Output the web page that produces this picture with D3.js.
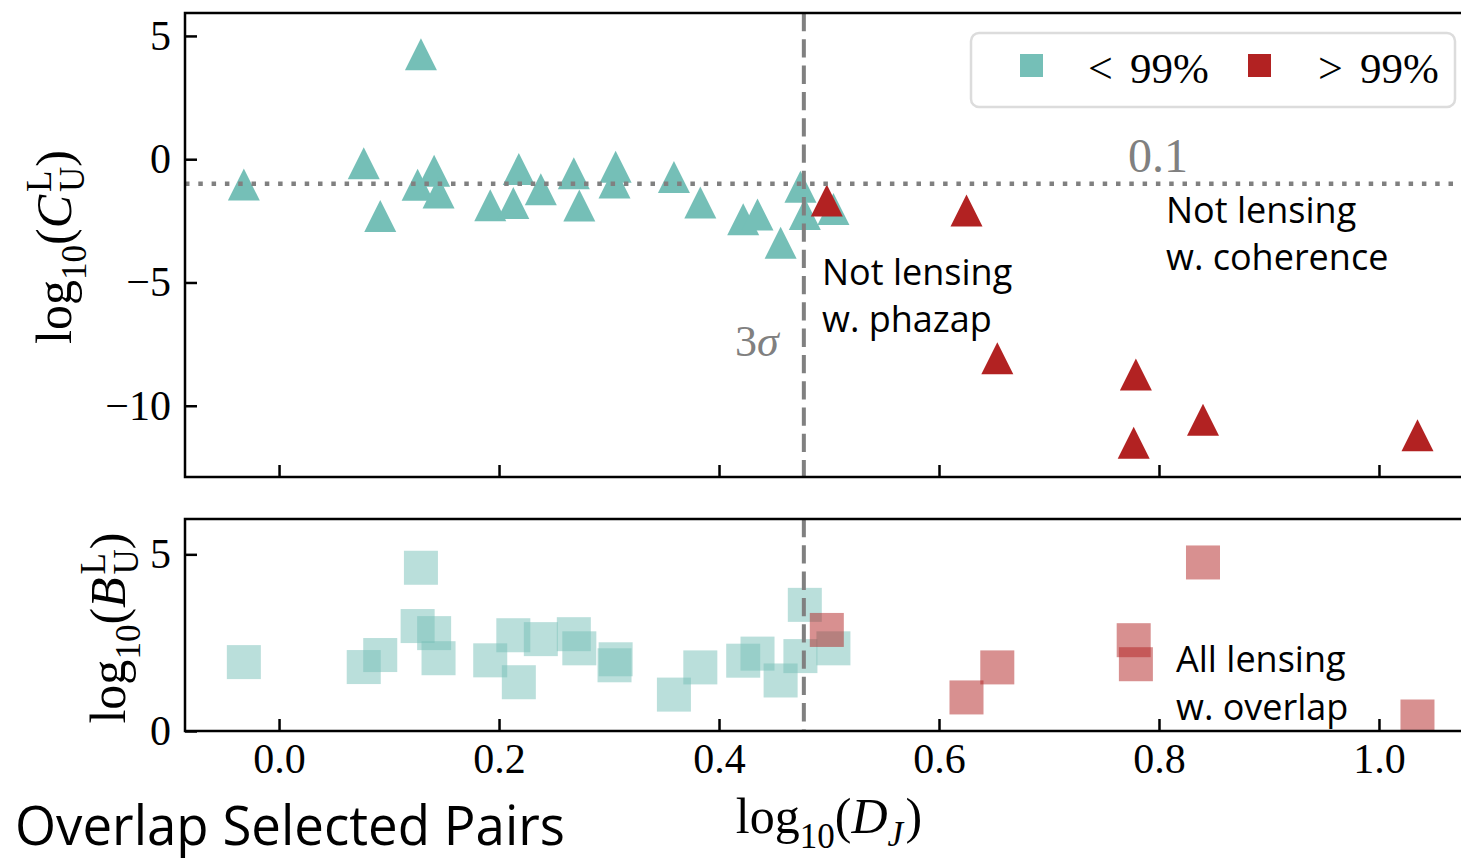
<!DOCTYPE html>
<html>
<head>
<meta charset="utf-8">
<script src="https://cdn.jsdelivr.net/npm/d3@7"></script>
<style>
  body { margin: 0; background: #fff; }
  svg text { fill: #000; }
</style>
</head>
<body>
<svg id="chart" width="1461" height="860"></svg>
<script>
// pairs below the 99% threshold
var djLow = [-0.032, 0.077, 0.092, 0.126, 0.129, 0.141, 0.145, 0.192, 0.213, 0.218, 0.238, 0.268,
	0.273, 0.305, 0.306, 0.359, 0.383, 0.422, 0.435, 0.456, 0.474, 0.478, 0.504];
var cLow = [-1.03, -0.16, -2.30, -1.04, 4.26, -0.47, -1.35, -1.87, -1.78, -0.40, -1.22, -0.57,
	-1.88, -0.94, -0.31, -0.72, -1.76, -2.44, -2.24, -3.39, -1.12, -2.22, -2.02];
var bLow = [1.95, 1.81, 2.15, 2.97, 4.62, 2.77, 2.06, 2.00, 2.71, 1.38, 2.60, 2.74,
	2.34, 1.86, 2.03, 1.03, 1.80, 1.99, 2.19, 1.43, 2.12, 3.57, 2.34];
// pairs above the 99% threshold
var djHigh = [0.498, 0.625, 0.653, 0.777, 0.779, 0.840, 1.035];
var cHigh = [-1.67, -2.08, -8.07, -11.50, -8.73, -10.57, -11.20];
var bHigh = [2.86, 0.95, 1.80, 2.57, 1.89, 4.77, 0.41];

var xTicks = [0, 0.2, 0.4, 0.6, 0.8, 1.0];
var cTicks = [-10, -5, 0, 5];
var bTicks = [0, 5];
var legendLabels = [["<", "99%"], [">", "99%"]];
var sigmaCut = Math.log10(3);
var coherenceCut = Math.log10(0.1);

var teal = "#75bfb7", red = "#b22222", grey = "#808080";
var serif = "'Liberation Serif', 'DejaVu Serif', serif";
var sans = "'Open Sans', 'Noto Sans', sans-serif";

var svg = d3.select("#chart");
var left = 185, right = 1464;
var x = d3.scaleLinear().domain([-0.0855, 1.0773]).range([left, right]);
var yC = d3.scaleLinear().domain([-12.89, 5.93]).range([477, 13]);
var yB = d3.scaleLinear().domain([0, 6]).range([731, 519]);

var low = djLow.map(function(d, i) { return {dj: d, c: cLow[i], b: bLow[i]}; });
var high = djHigh.map(function(d, i) { return {dj: d, c: cHigh[i], b: bHigh[i]}; });

var defs = svg.append("defs");
[["clipTop", yC], ["clipBot", yB]].forEach(function(p) {
	defs.append("clipPath").attr("id", p[0]).append("rect")
		.attr("x", left).attr("y", p[1].range()[1])
		.attr("width", right - left).attr("height", p[1].range()[0] - p[1].range()[1]);
});

function tickFmt(d) {
	return d < 0 ? "\u2212" + Math.abs(d) : String(d);
}

function styleAxis(g) {
	g.select(".domain").remove();
	g.selectAll(".tick line").attr("stroke", "#000").attr("stroke-width", 2.5);
	g.selectAll(".tick text").style("font-family", serif).style("font-size", "42px").attr("fill", "#000");
}

// math-ish label built from pieces, laid out left to right
function mathText(g, parts, size) {
	var cx = 0;
	parts.forEach(function(p) {
		var t = g.append("text")
			.attr("x", cx)
			.attr("y", (p.dy || 0) * size)
			.style("font-family", serif)
			.style("font-size", (size * (p.s || 1)) + "px")
			.style("font-style", p.it ? "italic" : "normal")
			.text(p.t);
		var w = t.node().getComputedTextLength();
		if (!p.stack) cx += w + (p.pad || 0) * size;
	});
	g.selectAll("text").attr("transform", "translate(" + (-cx / 2) + ",0)");
}

function panel(y, key, clipId, ticks, marker) {
	var g = svg.append("g");
	var plot = g.append("g").attr("clip-path", "url(#" + clipId + ")");

	if (marker == "tri") {
		var tri = "M0,-16L16,16L-16,16Z";
		plot.selectAll(".lo").data(low).enter().append("path")
			.attr("d", tri).attr("fill", teal)
			.attr("transform", function(d) { return "translate(" + x(d.dj) + "," + y(d[key]) + ")"; });
		plot.selectAll(".hi").data(high).enter().append("path")
			.attr("d", tri).attr("fill", red)
			.attr("transform", function(d) { return "translate(" + x(d.dj) + "," + y(d[key]) + ")"; });
	} else {
		plot.selectAll(".lo").data(low).enter().append("rect")
			.attr("x", function(d) { return x(d.dj) - 17; })
			.attr("y", function(d) { return y(d[key]) - 17; })
			.attr("width", 34).attr("height", 34)
			.attr("fill", teal).attr("fill-opacity", 0.5);
		plot.selectAll(".hi").data(high).enter().append("rect")
			.attr("x", function(d) { return x(d.dj) - 17; })
			.attr("y", function(d) { return y(d[key]) - 17; })
			.attr("width", 34).attr("height", 34)
			.attr("fill", red).attr("fill-opacity", 0.5);
	}

	// 3 sigma line
	plot.append("line")
		.attr("x1", x(sigmaCut)).attr("x2", x(sigmaCut))
		.attr("y1", y.range()[1]).attr("y2", y.range()[0])
		.attr("stroke", grey).attr("stroke-width", 4).attr("stroke-dasharray", "18.3 8");

	// frame
	g.append("rect")
		.attr("x", left).attr("y", y.range()[1])
		.attr("width", right - left).attr("height", y.range()[0] - y.range()[1])
		.attr("fill", "none").attr("stroke", "#000").attr("stroke-width", 2.5);

	var ax = g.append("g").attr("transform", "translate(" + left + ",0)")
		.call(d3.axisLeft(y).tickValues(ticks).tickFormat(tickFmt).tickSizeInner(-12).tickSizeOuter(0).tickPadding(14));
	styleAxis(ax);

	var bx = g.append("g").attr("transform", "translate(0," + y.range()[0] + ")")
		.call(d3.axisBottom(x).tickValues(xTicks).tickFormat(d3.format(".1f")).tickSizeInner(-12).tickSizeOuter(0).tickPadding(12));
	styleAxis(bx);
	return {g: g, plot: plot, bx: bx};
}

var topPanel = panel(yC, "c", "clipTop", cTicks, "tri");
topPanel.bx.selectAll(".tick text").remove();

// coherence threshold
topPanel.plot.append("line")
	.attr("x1", left).attr("x2", right)
	.attr("y1", yC(coherenceCut)).attr("y2", yC(coherenceCut))
	.attr("stroke", grey).attr("stroke-width", 4.5).attr("stroke-dasharray", "4.5 8.8");

var botPanel = panel(yB, "b", "clipBot", bTicks, "sq");

// annotations
function note(lines, x0, y0, dy) {
	var t = svg.append("text").style("font-family", sans).style("font-size", "36px");
	lines.forEach(function(l, i) {
		t.append("tspan").attr("x", x0).attr("y", y0 + i * dy).text(l);
	});
}
note(["Not lensing", "w. phazap"], 822, 285, 47);
note(["Not lensing", "w. coherence"], 1166, 223, 47);
note(["All lensing", "w. overlap"], 1176, 672, 48);

var sig = svg.append("text").attr("x", 735).attr("y", 356)
	.style("font-family", serif).style("font-size", "44px");
sig.append("tspan").text("3").style("fill", grey);
sig.append("tspan").text("\u03c3").style("font-style", "italic").style("fill", grey);

svg.append("text").attr("x", 1128).attr("y", 172)
	.style("font-family", serif).style("font-size", "48px").style("fill", grey).text("0.1");

// legend
var lg = svg.append("g");
lg.append("rect").attr("x", 971).attr("y", 33).attr("width", 484).attr("height", 74).attr("rx", 8)
	.attr("fill", "#fff").attr("fill-opacity", 0.8).attr("stroke", "#dcdcdc").attr("stroke-width", 2.5);
[[teal, 1020, 1088], [red, 1248, 1318]].forEach(function(p, i) {
	lg.append("rect").attr("x", p[1]).attr("y", 54).attr("width", 23).attr("height", 23).attr("fill", p[0]);
	lg.append("text").attr("x", p[2]).attr("y", 83)
		.style("font-family", serif).style("font-size", "44px").text(legendLabels[i][0]);
	lg.append("text").attr("x", p[2] + 42).attr("y", 83)
		.style("font-family", serif).style("font-size", "43px").text(legendLabels[i][1]);
});

// axis labels
var yl1 = svg.append("g").attr("transform", "translate(71,247) rotate(-90)");
mathText(yl1, [
	{t: "log"}, {t: "10", s: 0.7, dy: 0.3}, {t: "("}, {t: "C", it: true, pad: 0.06},
	{t: "L", s: 0.7, dy: -0.4, stack: true}, {t: "U", s: 0.7, dy: 0.25}, {t: ")"}
], 50);

var yl2 = svg.append("g").attr("transform", "translate(125,628) rotate(-90)");
mathText(yl2, [
	{t: "log"}, {t: "10", s: 0.7, dy: 0.3}, {t: "("}, {t: "B", it: true, pad: 0.06},
	{t: "L", s: 0.7, dy: -0.4, stack: true}, {t: "U", s: 0.7, dy: 0.25}, {t: ")"}
], 50);

var xl = svg.append("g").attr("transform", "translate(829,833)");
mathText(xl, [
	{t: "log"}, {t: "10", s: 0.7, dy: 0.3}, {t: "("}, {t: "D", it: true},
	{t: "J", s: 0.7, dy: 0.25, it: true, pad: 0.05}, {t: ")"}
], 50);

svg.append("text").attr("x", 15).attr("y", 845)
	.style("font-family", sans).style("font-size", "54px")
	.attr("textLength", 550).attr("lengthAdjust", "spacingAndGlyphs")
	.text("Overlap Selected Pairs");
</script>
</body>
</html>
